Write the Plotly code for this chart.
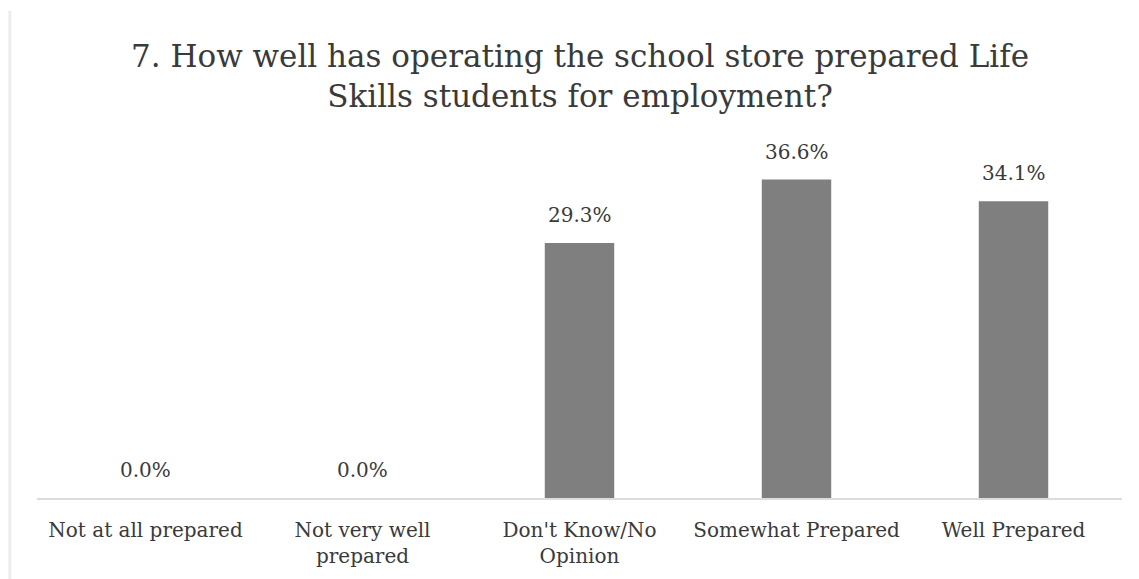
import plotly.graph_objects as go

# Survey responses for question 7
categories = [
    "Not at all prepared",
    "Not very well<br>prepared",
    "Don't Know/No<br>Opinion",
    "Somewhat Prepared",
    "Well Prepared",
]
percentages = [0.0, 0.0, 29.3, 36.6, 34.1]
labels = [f"{v:.1f}%" for v in percentages]

FONT = "DejaVu Serif"
TEXT_COLOR = "#3a3a3a"

fig = go.Figure(
    go.Bar(
        x=categories,
        y=percentages,
        marker=dict(color="#7f7f7f", line=dict(width=0)),
        hoverinfo="x+y",
    )
)

# value labels above each bar
for cat, val, lab in zip(categories, percentages, labels):
    fig.add_annotation(
        x=cat, y=val, text=lab,
        xref="x", yref="y",
        showarrow=False,
        yanchor="bottom",
        yshift=14,
        font=dict(family=FONT, size=20, color=TEXT_COLOR),
    )

# two-line chart title
fig.add_annotation(
    text="7. How well has operating the school store prepared Life<br>Skills students for employment?",
    xref="paper", yref="paper",
    x=0.5, y=1.0, yshift=34,
    xanchor="center", yanchor="bottom",
    showarrow=False,
    align="center",
    font=dict(family=FONT, size=31, color=TEXT_COLOR),
)

fig.update_layout(
    width=1139,
    height=579,
    paper_bgcolor="white",
    plot_bgcolor="white",
    bargap=0.68,
    showlegend=False,
    margin=dict(l=37, r=17, t=150, b=81),
    xaxis=dict(
        showline=True,
        linecolor="#dcdcdc",
        linewidth=1.5,
        ticks="",
        showgrid=False,
        ticklabelstandoff=13,
        tickfont=dict(family=FONT, size=20, color=TEXT_COLOR),
    ),
    yaxis=dict(
        range=[0, 40],
        visible=False,
        showgrid=False,
        zeroline=False,
    ),
)

# faint frame edge on the left side
fig.add_shape(
    type="line",
    xref="paper", yref="paper",
    x0=-0.025, x1=-0.025, y0=-0.25, y1=1.4,
    line=dict(color="#ececec", width=3),
)

fig.write_html("out.html")
